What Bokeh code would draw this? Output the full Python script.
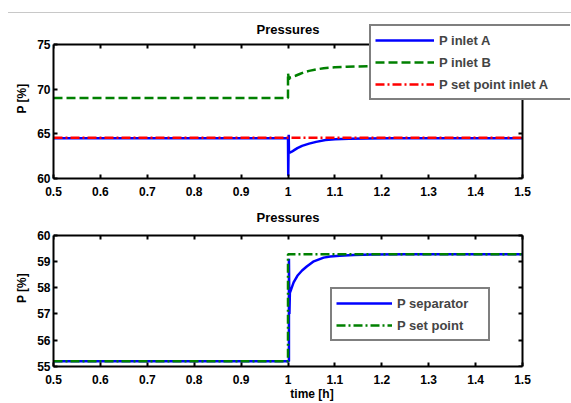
from bokeh.plotting import figure
from bokeh.layouts import column
from bokeh.models import (LinearAxis, FixedTicker, CustomJSTickFormatter, Legend,
                          LegendItem, Range1d, Div, Label)
from bokeh.embed import file_html
from bokeh.resources import INLINE

# ---- data ----
x_ticks = [0.5, 0.6, 0.7, 0.8, 0.9, 1.0, 1.1, 1.2, 1.3, 1.4, 1.5]
y1_ticks = [60, 65, 70, 75]
y2_ticks = [55, 56, 57, 58, 59, 60]

tA = [0.5, 1.0, 1.0005, 1.0015, 1.002, 1.004, 1.008, 1.014, 1.02, 1.03, 1.045,
      1.06, 1.08, 1.1, 1.13, 1.17, 1.22, 1.3, 1.5]
pA = [64.5, 64.5, 60.3, 64.9, 63.0, 62.9, 63.0, 63.2, 63.4, 63.65, 63.9,
      64.1, 64.3, 64.4, 64.45, 64.48, 64.5, 64.5, 64.5]

tB = [0.5, 1.0, 1.0, 1.002, 1.004, 1.01, 1.016, 1.025, 1.035, 1.045, 1.06,
      1.076, 1.1, 1.125, 1.15, 1.2, 1.3, 1.5]
pB = [69.0, 69.0, 71.8, 71.1, 71.3, 71.4, 71.5, 71.7, 71.9, 72.05, 72.2,
      72.35, 72.45, 72.5, 72.55, 72.6, 72.62, 72.63]

tSA = [0.5, 1.5]
pSA = [64.55, 64.55]

tSep = [0.5, 1.002, 1.002, 1.003, 1.004, 1.006, 1.008, 1.012, 1.02, 1.03, 1.04,
        1.055, 1.076, 1.09, 1.11, 1.14, 1.18, 1.25, 1.5]
pSep = [55.2, 55.2, 59.1, 57.0, 57.8, 57.9, 58.0, 58.2, 58.45, 58.65, 58.8,
        59.0, 59.14, 59.18, 59.21, 59.24, 59.26, 59.27, 59.27]

tSP = [0.5, 1.0, 1.0, 1.5]
pSP = [55.2, 55.2, 59.27, 59.27]

X0, X1 = 0.5, 1.5
Y1 = (60, 75)
Y2 = (55, 60)

FONT = "Liberation Sans"
FS = "12px"
FS_T = "13px"
BLUE, GREEN, RED = "#0000ff", "#008000", "#ff0000"

# geometry of the visible axes box (px)
BOX_W = 469.0
BOX_H = 134.0
EXTRA_RIGHT = 48.0   # frame widened to the right (legend overhang)
EXTRA_TOP = 26.0     # frame widened upward (title + legend overhang)

fmt = CustomJSTickFormatter(code="return String(Math.round(tick*10)/10);")


def blank():
    return CustomJSTickFormatter(code="return '';")


def style_axis(ax):
    ax.major_label_text_font = FONT
    ax.major_label_text_font_size = FS
    ax.major_label_text_font_style = "bold"
    ax.major_label_text_color = "black"
    ax.axis_line_width = 2
    ax.major_tick_in = 4
    ax.major_tick_out = 0
    ax.major_tick_line_width = 2
    ax.minor_tick_line_color = None
    ax.axis_label_text_font = FONT
    ax.axis_label_text_font_size = FS
    ax.axis_label_text_font_style = "bold"
    ax.axis_label_text_color = "black"


def panel(height, yr, yt, top, bottom, xlabel):
    x_end = X1 + EXTRA_RIGHT / BOX_W * (X1 - X0)
    y_end = yr[1] + EXTRA_TOP / BOX_H * (yr[1] - yr[0])
    p = figure(width=571, height=height, output_backend="svg", toolbar_location=None,
               x_range=Range1d(X0, x_end), y_range=Range1d(yr[0], y_end),
               min_border_left=53, min_border_right=1,
               min_border_top=top, min_border_bottom=bottom)
    p.grid.visible = False
    p.outline_line_color = None
    p.background_fill_color = "white"
    p.border_fill_color = "white"
    xa, ya = p.xaxis[0], p.yaxis[0]
    style_axis(xa)
    style_axis(ya)
    xa.ticker = FixedTicker(ticks=x_ticks)
    xa.formatter = fmt
    xa.bounds = (X0, X1)
    xa.major_label_standoff = 8
    ya.ticker = FixedTicker(ticks=yt)
    ya.bounds = yr
    ya.major_label_standoff = 3
    ya.axis_label = "P [%]"
    ya.axis_label_standoff = 5
    if xlabel:
        xa.axis_label = xlabel
        xa.axis_label_standoff = 0

    top_ax = LinearAxis(ticker=FixedTicker(ticks=x_ticks), formatter=blank(),
                        fixed_location=yr[1], bounds=(X0, X1))
    style_axis(top_ax)
    top_ax.major_label_standoff = 0
    right_ax = LinearAxis(ticker=FixedTicker(ticks=yt), formatter=blank(),
                          fixed_location=X1, bounds=yr)
    style_axis(right_ax)
    right_ax.major_label_standoff = 0
    p.add_layout(top_ax, "above")
    p.add_layout(right_ax, "right")

    p.add_layout(Label(x=BOX_W / 2, y=BOX_H + 15, x_units="screen", y_units="screen",
                       text="Pressures", text_font=FONT, text_font_size=FS_T,
                       text_font_style="bold", text_align="center",
                       text_baseline="middle", text_color="black"))
    return p


def style_legend(lg, glyph_width, label_width):
    lg.label_text_font = FONT
    lg.label_text_font_size = FS_T
    lg.label_text_font_style = "bold"
    lg.border_line_color = "black"
    lg.border_line_width = 2
    lg.background_fill_alpha = 1
    lg.glyph_width = glyph_width
    lg.glyph_height = 20
    lg.label_height = 20
    lg.label_standoff = 5
    lg.label_width = label_width
    lg.spacing = 2
    lg.padding = 4
    lg.margin = 0


# ---------- top panel ----------
p1 = panel(187, Y1, y1_ticks, 5, 22, None)
rA = p1.line(tA, pA, line_color=BLUE, line_width=2.5)
rB = p1.line(tB, pB, line_color=GREEN, line_width=2.5, line_dash="9 4")
rS = p1.line(tSA, pSA, line_color=RED, line_width=2.5, line_dash="9 3 2 3")
lg1 = Legend(items=[LegendItem(label="P inlet A", renderers=[rA]),
                    LegendItem(label="P inlet B", renderers=[rB]),
                    LegendItem(label="P set point inlet A", renderers=[rS])],
             location=(316, 78))
style_legend(lg1, 59, 129)
p1.add_layout(lg1)

# ---------- bottom panel ----------
p2 = panel(203, Y2, y2_ticks, 9, 34, "time [h]")
rSep = p2.line(tSep, pSep, line_color=BLUE, line_width=2.5)
rSP = p2.line(tSP, pSP, line_color=GREEN, line_width=2.5, line_dash="9 3 2 3")
lg2 = Legend(items=[LegendItem(label="P separator", renderers=[rSep]),
                    LegendItem(label="P set point", renderers=[rSP])],
             location=(277, 25))
style_legend(lg2, 56, 87)
p2.add_layout(lg2)

div = Div(text="", width=563, height=13, margin=(0, 0, 0, 8),
          styles={"border-bottom": "1px solid #c8c8c8", "box-sizing": "border-box"})

layout = column(div, p1, p2, spacing=0)
open("out.html", "w").write(file_html(layout, INLINE))
